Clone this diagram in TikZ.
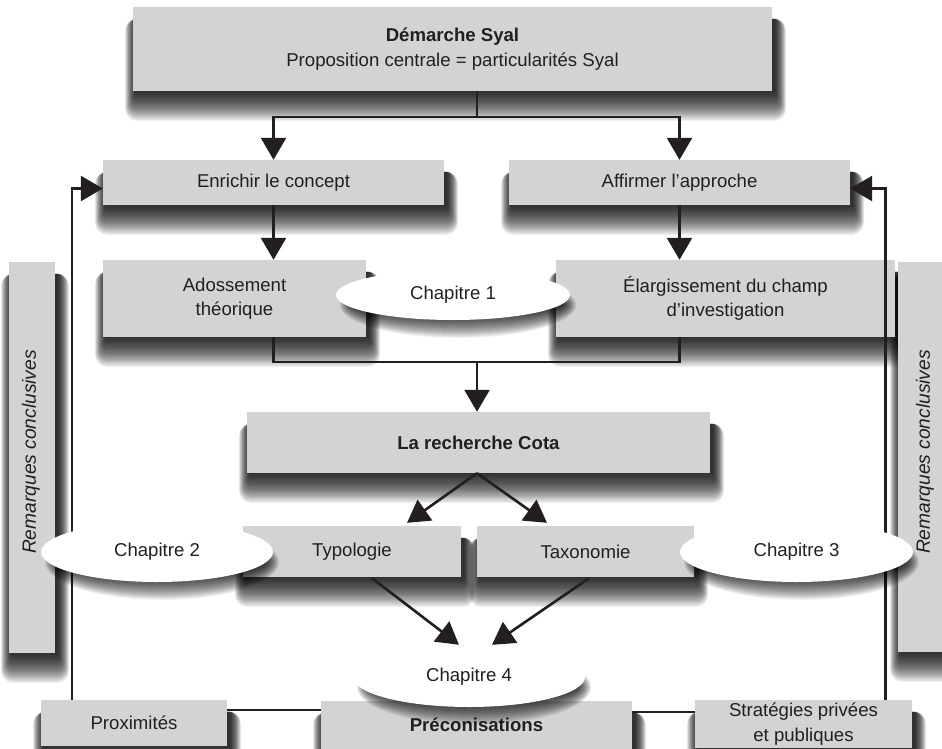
\documentclass[tikz,border=0pt]{standalone}
\usepackage{fontspec}
\setmainfont{Liberation Sans}
\usetikzlibrary{arrows.meta,shapes.geometric,calc}
\definecolor{boxgray}{RGB}{211,211,213}
\definecolor{ink}{RGB}{35,31,32}
\pgfdeclarelayer{back}
\pgfdeclarelayer{front}
\pgfsetlayers{back,main,front}
\tikzset{
  box/.style={rectangle, fill=boxgray, text=ink, align=center,
      inner sep=0pt, font=\fontsize{18.6}{24.5}\selectfont},
  oval/.style={ellipse, fill=white, text=ink, inner sep=0pt,
      font=\fontsize{18.6}{24.5}\selectfont},
  sidetext/.style={rotate=90, text=ink, inner sep=0pt,
      font=\fontsize{19.2}{22}\selectfont\itshape},
  link/.style={draw=ink, line width=2.6pt},
  arr/.style={link, -{Triangle[length=22pt,width=25pt]}},
  shadelayer/.style={fill=black, opacity=0.06},
  ovallayer/.style={fill=black, opacity=0.05},
}
% soft drop shadow under a rectangular node: stacked translucent layers,
% spreading mostly downwards
\newcommand\boxshade[1]{%
  \foreach \k in {0,...,24}{%
    \fill[shadelayer, rounded corners=0.5*\k pt]
      ($(#1.north west)+(3-0.45*\k,12)$) rectangle ($(#1.south east)+(3+0.45*\k,1+1.2*\k)$);
  }}
% soft drop shadow under an oval node of radii #2 and #3
\newcommand\ovalshade[3]{%
  \foreach \k in {0,...,22}{%
    \fill[ovallayer] ($(#1.center)+(5,10)$)
      ellipse [x radius={#2pt+0.6*\k pt-12pt}, y radius={#3pt+\k pt-14pt}];
  }}
\begin{document}
\begin{tikzpicture}[x=1pt, y=-1pt]
  \useasboundingbox (0,0) rectangle (942,749);

  % side bars
  \node[box, minimum width=46pt, minimum height=391pt] (barL) at (32,457.5) {};
  \node[box, minimum width=50pt, minimum height=390pt] (barR) at (923,457) {};
  \node[sidetext] (remL) at (31,452) {Remarques conclusives};
  \node[sidetext] (remR) at (925,452) {Remarques conclusives};

  % rectangular boxes
  \node[box, minimum width=639pt, minimum height=84pt] (syal) at (452.5,49)
    {\textbf{Démarche Syal}\\Proposition centrale = particularités Syal};
  \node[box, minimum width=341pt, minimum height=45pt] (enrichir) at (273.5,182.5)
    {Enrichir le concept};
  \node[box, minimum width=341pt, minimum height=45pt] (affirmer) at (679.5,182.5)
    {Affirmer l’approche};
  \node[box, minimum width=263pt, minimum height=77pt] (adossement) at (234.5,298.5)
    {Adossement\\théorique};
  \node[box, minimum width=339pt, minimum height=77pt] (elarg) at (725.5,298.5)
    {Élargissement du champ\\d’investigation};
  \node[box, minimum width=463pt, minimum height=61pt] (cota) at (478.5,442.5)
    {\textbf{La recherche Cota}};
  \node[box, minimum width=218pt, minimum height=51pt] (typo) at (352,551.5)
    {Typologie};
  \node[box, minimum width=217pt, minimum height=51pt] (taxo) at (585.5,551.5)
    {Taxonomie};
  \node[box, minimum width=186pt, minimum height=46pt] (prox) at (134,723)
    {Proximités};
  \node[box, minimum width=311pt, minimum height=48pt] (precon) at (476.5,725)
    {\textbf{Préconisations}};
  \node[box, minimum width=217pt, minimum height=48pt] (strat) at (803.5,724)
    {Stratégies privées\\et publiques};

  % white ground and the shadows of the boxes
  \begin{pgfonlayer}{back}
    \fill[white] (0,0) rectangle (942,749);
    \foreach \n in {barL,barR,syal,enrichir,affirmer,adossement,elarg,cota,
                    typo,taxo,prox,precon,strat}{\boxshade{\n}}
  \end{pgfonlayer}

  % chapter ovals with their shadows, kept above the connectors
  \begin{pgfonlayer}{front}
    \coordinate (c1) at (453,295);
    \coordinate (c2) at (157,552);
    \coordinate (c3) at (796.5,552);
    \coordinate (c4) at (469,677);
    \ovalshade{c1}{117}{25}
    \ovalshade{c2}{116}{30}
    \ovalshade{c3}{116.5}{30}
    \ovalshade{c4}{116}{30}
    \node[oval, minimum width=234pt, minimum height=50pt] (chap1) at (c1) {Chapitre 1};
    \node[oval, minimum width=232pt, minimum height=60pt] (chap2) at (c2) {Chapitre 2};
    \node[oval, minimum width=233pt, minimum height=60pt] (chap3) at (c3) {Chapitre 3};
    \node[oval, minimum width=232pt, minimum height=60pt] (chap4) at (c4) {Chapitre 4};
  \end{pgfonlayer}

  % connectors
  \coordinate (split) at (477,117);
  \draw[link] (syal.south -| split) -- (split);
  \draw[arr] (split) -| (enrichir.north);
  \draw[arr] (split) -| (affirmer.north);
  \draw[arr] (enrichir.south) -- (enrichir.south |- adossement.north);
  \draw[arr] (affirmer.south) -- (affirmer.south |- elarg.north);
  \coordinate (join) at (477,362);
  \draw[link] (adossement.south -| enrichir.south) |- (join) -| (elarg.south -| affirmer.south);
  \draw[arr] (join) -- (join |- cota.north);
  \draw[arr] ($(cota.south)+(-1.5,0)$) -- ($(typo.north)+(55,-3)$);
  \draw[arr] ($(cota.south)+(-1.5,0)$) -- ($(taxo.north)+(-38.5,-3)$);
  \draw[arr] ($(typo.south)+(20,1)$) -- ($(chap4.north)+(-10,-2)$);
  \draw[arr] ($(taxo.south)+(3.5,1)$) -- ($(chap4.north)+(23,-2)$);
  \draw[link] ([yshift=13pt]prox.east) -- ([yshift=13pt]prox.east -| precon.west);
  \draw[link] ([yshift=13pt]precon.east) -- ([yshift=13pt]precon.east -| strat.west);
  \draw[arr] ([xshift=-62pt]prox.north) |- ([yshift=-6pt]enrichir.west);
  \draw[arr] ([xshift=82pt]strat.north) |- ([yshift=-6pt]affirmer.east);
\end{tikzpicture}
\end{document}
